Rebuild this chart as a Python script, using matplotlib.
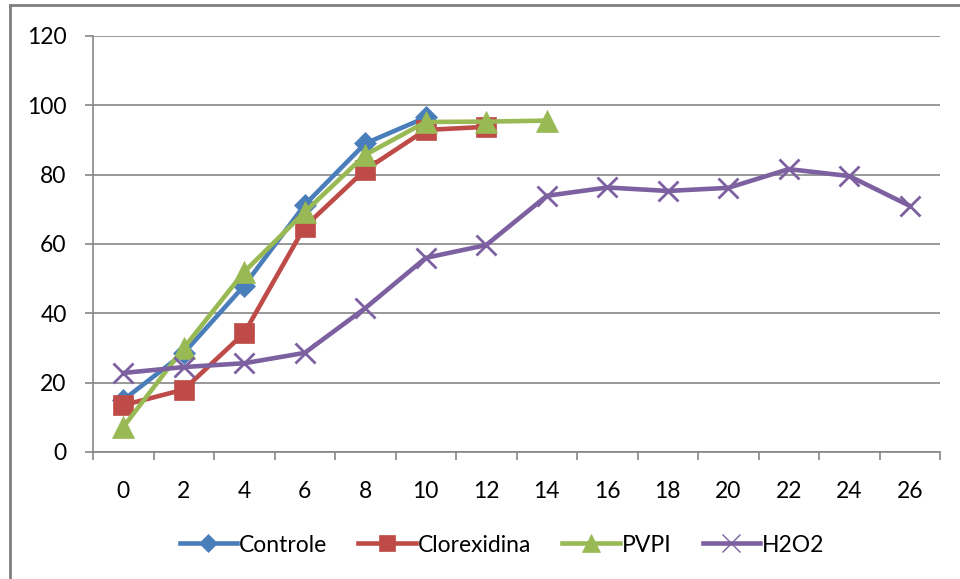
import matplotlib.pyplot as plt
from matplotlib.lines import Line2D

# data
days = ['0', '2', '4', '6', '8', '10', '12', '14', '16', '18', '20', '22', '24', '26']
controle = [15, 28.5, 48, 71.3, 89, 96.5]
clorexidina = [13.5, 18, 34.3, 65, 81.4, 92.9, 93.8]
pvpi = [7.2, 30, 52, 69.2, 85.7, 95.2, 95.3, 95.6]
h2o2 = [22.8, 24.5, 25.6, 28.6, 41.5, 56, 59.7, 73.9, 76.3, 75.3, 76.2, 81.6, 79.6, 71]

plt.rcParams['font.family'] = ['Lato', 'DejaVu Sans']

W, H = 960, 579
fig = plt.figure(figsize=(W / 100, H / 100), dpi=100)
ax = fig.add_axes([93 / W, 1 - 452 / H, (940 - 93) / W, (452 - 36) / H])

grid_c = '#868686'
fs = 16.5
series = [
    ('Controle', controle, '#4A7EBB', 'D', 11),
    ('Clorexidina', clorexidina, '#BE4B48', 's', 14),
    ('PVPI', pvpi, '#98B954', '^', 16),
    ('H2O2', h2o2, '#7D60A0', 'x', 15),
]
for name, vals, col, mk, ms in series:
    ax.plot(range(len(vals)), vals, color=col, lw=3.3, marker=mk, ms=ms,
            mew=2 if mk == 'x' else 0.5, mec=col, label=name, zorder=3)

ax.set_xlim(-0.5, len(days) - 0.5)
ax.set_ylim(0, 120)
ax.set_yticks(range(0, 121, 20))
ax.set_xticks(range(len(days)))
ax.set_xticklabels(days)
ax.set_xticks([i - 0.5 for i in range(len(days) + 1)], minor=True)
ax.tick_params(axis='x', which='major', length=0, pad=21, labelsize=fs)
ax.tick_params(axis='x', which='minor', length=6, direction='out', color=grid_c, width=1.2)
ax.tick_params(axis='y', length=6, direction='out', color=grid_c, width=1.2, pad=13, labelsize=fs)
ax.grid(axis='y', color=grid_c, lw=1.2)
ax.set_axisbelow(True)
for s in ['top', 'right']:
    ax.spines[s].set_visible(False)
for s in ['left', 'bottom']:
    ax.spines[s].set_color(grid_c)
    ax.spines[s].set_linewidth(1.2)

handles = [Line2D([0], [0], color=col, lw=3.3, marker=mk, ms=ms * 0.85,
                  mew=1 if mk == 'x' else 0.5, mec=col)
           for _, _, col, mk, ms in series]
fig.legend(handles, [s[0] for s in series], loc='center', bbox_to_anchor=(0.523, 1 - 545 / H),
           ncol=4, frameon=False, fontsize=fs, handlelength=2.5, handletextpad=0.1,
           columnspacing=1.35)

# outer chart frame
fig.add_artist(Line2D([10 / W, 10 / W], [0, 1 - 5 / H], color='#7f7f7f', lw=2))
fig.add_artist(Line2D([10 / W, 1], [1 - 5 / H, 1 - 5 / H], color='#7f7f7f', lw=2))

fig.savefig('out.png', dpi=100)
